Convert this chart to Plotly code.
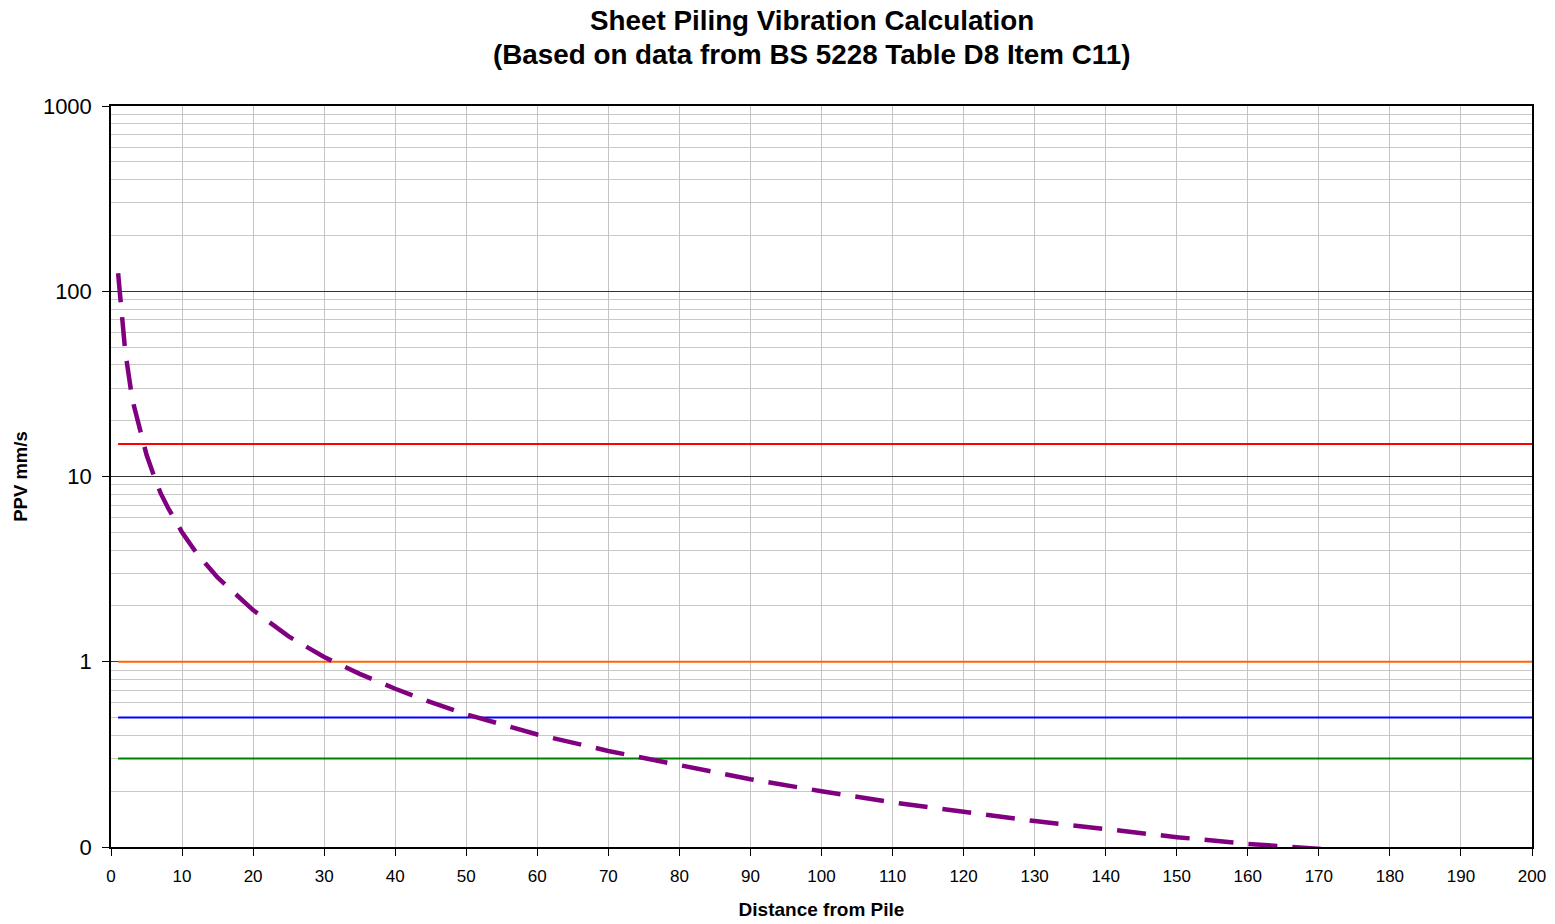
import plotly.graph_objects as go

# Distance from pile (m) and PPV (mm/s)
distance = [1, 2, 3, 4, 5, 6, 7, 8, 10, 12, 15, 20, 25, 30, 35, 40, 45, 50,
            60, 70, 80, 90, 100, 110, 120, 130, 140, 150, 160, 170, 180, 190, 200]
ppv = [125, 47.5, 26, 18, 13.1, 10.2, 8.1, 6.8, 5.0, 3.88, 2.85, 1.9, 1.37, 1.06,
       0.86, 0.715, 0.605, 0.52, 0.405, 0.33, 0.275, 0.232, 0.2, 0.174, 0.155,
       0.138, 0.125, 0.113, 0.104, 0.098, 0.092, 0.086, 0.081]

# Threshold lines
limit_x = [1, 200]
limit_values = [15, 1, 0.5, 0.3]
limit_colors = ["#FF0000", "#FF6600", "#0000FF", "#008000"]

y_tickvals = [0.1, 1, 10, 100, 1000]
y_ticktext = ["0", "1", "10", "100", "1000"]
x_tickvals = list(range(0, 201, 10))
y_minor = [m * d for d in [0.1, 1, 10, 100] for m in range(2, 10)]

title_lines = ["Sheet Piling Vibration Calculation",
               "(Based on data from BS 5228 Table D8 Item C11)"]

fig = go.Figure()

for v, c in zip(limit_values, limit_colors):
    fig.add_trace(go.Scatter(x=limit_x, y=[v, v], mode="lines",
                             line=dict(color=c, width=2), hoverinfo="skip",
                             showlegend=False))

fig.add_trace(go.Scatter(x=distance, y=ppv, mode="lines",
                         line=dict(color="#800080", width=4.5, dash="29px,15px"),
                         showlegend=False))

font_family = "Liberation Sans, Arial, sans-serif"

W, H = 1555, 924
L, R, T, B = 111, 23, 106, 77
plot_h = H - T - B

fig.update_layout(
    width=W, height=H,
    paper_bgcolor="white", plot_bgcolor="white",
    margin=dict(l=L, r=R, t=T, b=B),
    font=dict(family=font_family, color="black"),
)

for txt, above in zip(title_lines, [86, 51]):
    fig.add_annotation(text=f"<b>{txt}</b>", xref="paper", yref="paper",
                       x=0.4933, y=1 + above / plot_h, xanchor="center",
                       yanchor="middle", showarrow=False,
                       font=dict(size=27.8, family=font_family, color="black"))

fig.update_xaxes(
    range=[0, 200], tickvals=x_tickvals, ticks="outside", ticklen=7,
    tickcolor="black", tickfont=dict(size=17), ticklabelstandoff=6,
    showline=True, linecolor="black", linewidth=1.5, mirror=True,
    showgrid=True, gridcolor="#c4c4c4", gridwidth=1, zeroline=False,
    automargin=False,
    title=dict(text="<b>Distance from Pile</b>", font=dict(size=19), standoff=18),
)

fig.update_yaxes(
    type="log", range=[-1, 3], tickvals=y_tickvals, ticktext=y_ticktext,
    ticks="outside", ticklen=7, tickcolor="black", tickfont=dict(size=22),
    ticklabelstandoff=6,
    showline=True, linecolor="black", linewidth=1.5, mirror=True,
    showgrid=True, gridcolor="#333333", gridwidth=1, zeroline=False,
    automargin=False,
    minor=dict(tickvals=y_minor, showgrid=True, gridcolor="#c8c8c8", gridwidth=1, ticks=""),
    title=dict(text="<b>PPV mm/s</b>", font=dict(size=18.5), standoff=10),
)

fig.write_html("out.html", config={"displayModeBar": False},
               post_script="document.body.style.margin='0px';document.body.style.overflow='hidden';")
